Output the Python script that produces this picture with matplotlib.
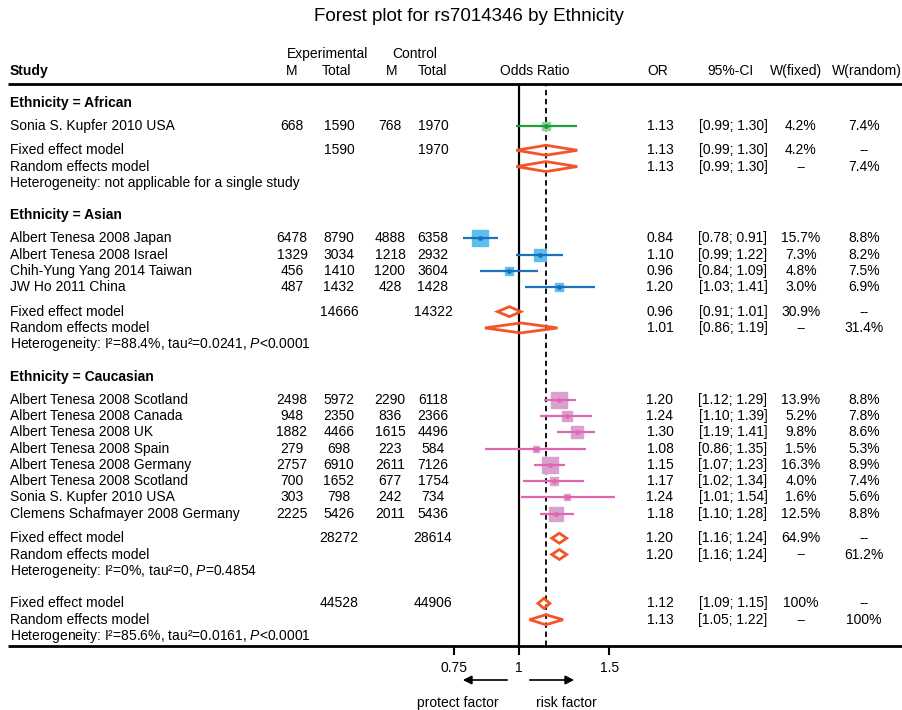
import numpy as np
import matplotlib
matplotlib.use("agg")
import matplotlib.pyplot as plt
from matplotlib.ticker import FixedLocator, FixedFormatter, NullLocator

plt.rcParams['font.family'] = ['Liberation Sans', 'DejaVu Sans']
plt.rcParams['mathtext.fontset'] = 'custom'
plt.rcParams['mathtext.rm'] = 'Liberation Sans'
plt.rcParams['mathtext.it'] = 'Liberation Sans:italic'
fs = 10

# ---- data ----
groups = ["African", "Asian", "Caucasian"]
study = ["Sonia S. Kupfer 2010 USA",
         "Albert Tenesa 2008 Japan", "Albert Tenesa 2008 Israel",
         "Chih-Yung Yang 2014 Taiwan", "JW Ho 2011 China",
         "Albert Tenesa 2008 Scotland", "Albert Tenesa 2008 Canada",
         "Albert Tenesa 2008 UK", "Albert Tenesa 2008 Spain",
         "Albert Tenesa 2008 Germany", "Albert Tenesa 2008 Scotland",
         "Sonia S. Kupfer 2010 USA", "Clemens Schafmayer 2008 Germany"]
group = [0, 1, 1, 1, 1, 2, 2, 2, 2, 2, 2, 2, 2]
exp_m = [668, 6478, 1329, 456, 487, 2498, 948, 1882, 279, 2757, 700, 303, 2225]
exp_n = [1590, 8790, 3034, 1410, 1432, 5972, 2350, 4466, 698, 6910, 1652, 798, 5426]
ctl_m = [768, 4888, 1218, 1200, 428, 2290, 836, 1615, 223, 2611, 677, 242, 2011]
ctl_n = [1970, 6358, 2932, 3604, 1428, 6118, 2366, 4496, 584, 7126, 1754, 734, 5436]
odds = [1.13, 0.84, 1.10, 0.96, 1.20, 1.20, 1.24, 1.30, 1.08, 1.15, 1.17, 1.24, 1.18]
ci_lo = [0.99, 0.78, 0.99, 0.84, 1.03, 1.12, 1.10, 1.19, 0.86, 1.07, 1.02, 1.01, 1.10]
ci_hi = [1.30, 0.91, 1.22, 1.09, 1.41, 1.29, 1.39, 1.41, 1.35, 1.23, 1.34, 1.54, 1.28]
w_fixed = [4.2, 15.7, 7.3, 4.8, 3.0, 13.9, 5.2, 9.8, 1.5, 16.3, 4.0, 1.6, 12.5]
w_random = [7.4, 8.8, 8.2, 7.5, 6.9, 8.8, 7.8, 8.6, 5.3, 8.9, 7.4, 5.6, 8.8]

# subgroup summaries, last entry = overall
sum_exp_n = [1590, 14666, 28272, 44528]
sum_ctl_n = [1970, 14322, 28614, 44906]
fix_or = [1.13, 0.96, 1.20, 1.12]
fix_lo = [0.99, 0.91, 1.16, 1.09]
fix_hi = [1.30, 1.01, 1.24, 1.15]
fix_w = [4.2, 30.9, 64.9, 100]
rnd_or = [1.13, 1.01, 1.20, 1.13]
rnd_lo = [0.99, 0.86, 1.16, 1.05]
rnd_hi = [1.30, 1.19, 1.24, 1.22]
rnd_w = [7.4, 31.4, 61.2, 100]
het_i2 = [None, "88.4%", "0%", "85.6%"]
het_tau2 = [None, "0.0241", "0", "0.0161"]
het_p = [None, "<0.0001", "=0.4854", "<0.0001"]

line_cols = ["#1f9e3c", "#1c70c0", "#e266b2"]
box_cols = ["#8fd68f", "#5cbfee", "#d9a2cd"]
dia_col = "#f2552a"

# column centres (pixels)
x_study, x_em, x_en, x_cm, x_cn = 10, 292, 339, 390, 433
x_or, x_ci, x_wf, x_wr = 660, 733, 801, 864
base = 4.0  # text centre -> baseline offset in px


def wfmt(w):
    return "100%" if w >= 100 else f"{w:.1f}%"


fig = plt.figure(figsize=(9.03, 7.10), dpi=100)
bg = fig.add_axes([0, 0, 1, 1])
bg.set_xlim(0, 903)
bg.set_ylim(710, 0)
bg.axis("off")

# forest panel with log OR scale
px0, scale = 518.6, 223.6
fl, fr, ftop, fbot = 430, 640, 84, 646
ax = fig.add_axes([fl / 903, (710 - fbot) / 710, (fr - fl) / 903, (fbot - ftop) / 710])
ax.set_xscale("log")
ax.set_xlim(np.exp((fl - px0) / scale), np.exp((fr - px0) / scale))
ax.set_ylim(fbot, ftop)
ax.patch.set_alpha(0)
for s in ax.spines.values():
    s.set_visible(False)
ax.set_yticks([])
ax.xaxis.set_major_locator(FixedLocator([0.75, 1, 1.5]))
ax.xaxis.set_major_formatter(FixedFormatter(["0.75", "1", "1.5"]))
ax.xaxis.set_minor_locator(NullLocator())
ax.tick_params(axis="x", direction="out", length=6.5, width=1.5, pad=4, labelsize=fs)

ax.axvline(1, color="black", lw=1.6, zorder=1)
ax.axvline(rnd_or[-1], color="black", lw=1.3, ls=(0, (3, 2)), zorder=1)


def txt(x, y, s, ha="center", **kw):
    bg.text(x, y + base, s, fontsize=kw.pop("size", fs), ha=ha, va="baseline", **kw)


# title and header
txt(469, 17, "Forest plot for rs7014346 by Ethnicity", size=13.5)
txt(x_study, 71, "Study", ha="left", fontweight="bold")
txt((x_em + x_en) / 2 + 12, 54, "Experimental")
txt((x_cm + x_cn) / 2 + 3, 54, "Control")
for xx, lab in [(x_em, "M"), (x_en - 2, "Total"), (x_cm + 2, "M"), (x_cn, "Total"),
                (535, "Odds Ratio"), (x_or - 2, "OR"), (x_ci - 2, "95%-CI"),
                (x_wf - 5, "W(fixed)"), (x_wr + 3, "W(random)")]:
    txt(xx, 71, lab)
bg.plot([8, 903], [84, 84], color="black", lw=2, solid_capstyle="butt")
bg.plot([8, 903], [646, 646], color="black", lw=2, solid_capstyle="butt")


def diamond(est, lo, hi, y):
    ax.fill([lo, est, hi, est], [y, y - 5, y, y + 5], facecolor="none",
            edgecolor=dia_col, lw=2, zorder=3, clip_on=False)


L = 16.3


def summary_rows(k, y0, label_fixed="Fixed effect model"):
    txt(x_study, y0, label_fixed, ha="left")
    txt(x_en, y0, str(sum_exp_n[k]))
    txt(x_cn, y0, str(sum_ctl_n[k]))
    txt(x_or, y0, f"{fix_or[k]:.2f}")
    txt(x_ci, y0, f"[{fix_lo[k]:.2f}; {fix_hi[k]:.2f}]")
    txt(x_wf, y0, wfmt(fix_w[k]))
    txt(x_wr, y0, "--")
    diamond(fix_or[k], fix_lo[k], fix_hi[k], y0)
    y1 = y0 + L
    txt(x_study, y1, "Random effects model", ha="left")
    txt(x_or, y1, f"{rnd_or[k]:.2f}")
    txt(x_ci, y1, f"[{rnd_lo[k]:.2f}; {rnd_hi[k]:.2f}]")
    txt(x_wf, y1, "--")
    txt(x_wr, y1, wfmt(rnd_w[k]))
    diamond(rnd_or[k], rnd_lo[k], rnd_hi[k], y1)
    y2 = y1 + L
    if het_i2[k] is None:
        txt(x_study, y2, "Heterogeneity: not applicable for a single study", ha="left")
    else:
        txt(x_study, y2, "Heterogeneity: I\u00b2=" + het_i2[k]
            + ", tau\u00b2=" + het_tau2[k] + r", $\mathit{P}$" + het_p[k], ha="left")
    return y2


y = 103
for g, gname in enumerate(groups):
    if g > 0:
        y += 2 * L
    txt(x_study, y, f"Ethnicity = {gname}", ha="left", fontweight="bold")
    idx = [i for i in range(len(study)) if group[i] == g]
    y += 1.4 * L
    for k, i in enumerate(idx):
        if k > 0:
            y += L
        txt(x_study, y, study[i], ha="left")
        txt(x_em, y, str(exp_m[i]))
        txt(x_en, y, str(exp_n[i]))
        txt(x_cm, y, str(ctl_m[i]))
        txt(x_cn, y, str(ctl_n[i]))
        txt(x_or, y, f"{odds[i]:.2f}")
        txt(x_ci, y, f"[{ci_lo[i]:.2f}; {ci_hi[i]:.2f}]")
        txt(x_wf, y, wfmt(w_fixed[i]))
        txt(x_wr, y, wfmt(w_random[i]))
        ax.plot(odds[i], y, marker="s", ms=0.72 * 4.1 * np.sqrt(w_fixed[i]),
                mfc=box_cols[g], mec=box_cols[g], ls="none", zorder=2, clip_on=False)
        ax.plot([ci_lo[i], ci_hi[i]], [y, y], color=line_cols[g], lw=1.6,
                solid_capstyle="butt", zorder=3, clip_on=False)
        ax.plot(odds[i], y, marker="o", ms=2.5, color=line_cols[g], ls="none", zorder=4)
    y += 1.5 * L
    y = summary_rows(g, y)

y += 2 * L
summary_rows(len(groups), y)

# direction arrows
bg.annotate("", xy=(460, 680), xytext=(510, 680),
            arrowprops=dict(arrowstyle="-|>", color="black", lw=1.2, mutation_scale=13))
bg.annotate("", xy=(577, 680), xytext=(527, 680),
            arrowprops=dict(arrowstyle="-|>", color="black", lw=1.2, mutation_scale=13))
txt(458, 703, "protect factor")
txt(566, 703, "risk factor")

plt.savefig("out.png", dpi=100)
plt.close()
